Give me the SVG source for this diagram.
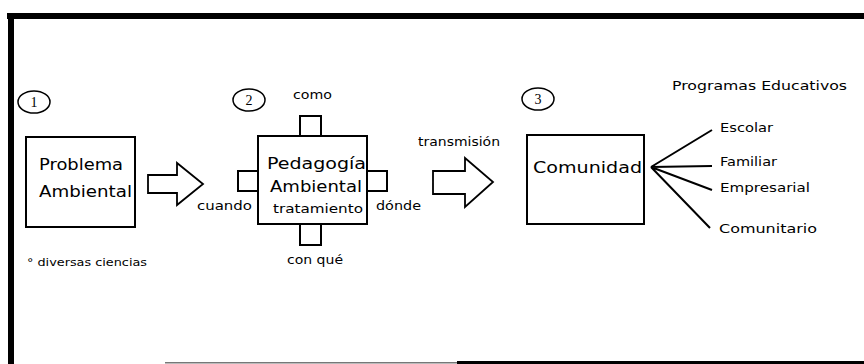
<svg xmlns="http://www.w3.org/2000/svg" width="864" height="364" viewBox="0 0 864 364">
<style>
.box{fill:#fff;stroke:#000;stroke-width:2}
.sq{fill:#fff;stroke:#000;stroke-width:2}
.num{fill:none;stroke:#000;stroke-width:1.5}
.arr{fill:#fff;stroke:#000;stroke-width:1.8;stroke-linejoin:miter}
.fan{stroke:#000;stroke-width:2;fill:none}
text{font-family:"DejaVu Sans","Liberation Sans",sans-serif;fill:#000}
.big{font-size:16px}
.sm{font-size:12.5px}
.xs{font-size:10.5px}
.n{font-family:"Liberation Serif",serif;font-size:14px;text-anchor:middle}
</style>
<rect width="864" height="364" fill="#fff"/>
<g id="frame">
<rect x="7" y="13" width="857" height="6" fill="#000"/>
<rect x="8" y="13" width="6" height="351" fill="#000"/>
<rect x="165" y="362" width="292" height="1.5" fill="#777"/>
<rect x="457" y="361" width="407" height="3" fill="#000"/>
</g>
<g id="num1"><ellipse class="num" cx="34" cy="102" rx="16" ry="11"/><text class="n" x="34" y="107">1</text></g>
<g id="num2"><ellipse class="num" cx="249" cy="100" rx="16" ry="11"/><text class="n" x="249" y="105">2</text></g>
<g id="num3"><ellipse class="num" cx="538" cy="99" rx="16" ry="11"/><text class="n" x="538" y="104">3</text></g>
<g id="problema">
<rect class="box" x="26" y="137" width="109" height="90"/>
<text class="big" x="39" y="170" textLength="84" lengthAdjust="spacingAndGlyphs">Problema</text>
<text class="big" x="39" y="197" textLength="93" lengthAdjust="spacingAndGlyphs">Ambiental</text>
</g>
<g id="diversas"><text class="xs" x="27" y="266" textLength="120" lengthAdjust="spacingAndGlyphs">° diversas ciencias</text></g>
<g id="pedagogia">
<rect class="sq" x="300" y="116" width="21" height="20"/>
<rect class="sq" x="238" y="171" width="20" height="20"/>
<rect class="sq" x="367" y="171" width="20" height="20"/>
<rect class="sq" x="300" y="224" width="21" height="21"/>
<rect class="box" x="258" y="136" width="109" height="88"/>
<text class="big" x="267" y="169" textLength="99" lengthAdjust="spacingAndGlyphs">Pedagogía</text>
<text class="big" x="270" y="192" textLength="92" lengthAdjust="spacingAndGlyphs">Ambiental</text>
<text class="sm" x="273" y="213" textLength="90" lengthAdjust="spacingAndGlyphs">tratamiento</text>
</g>
<g id="labels2">
<text class="sm" x="293" y="99" textLength="39" lengthAdjust="spacingAndGlyphs">como</text>
<text class="sm" x="197" y="210" textLength="55" lengthAdjust="spacingAndGlyphs">cuando</text>
<text class="sm" x="376" y="210" textLength="45" lengthAdjust="spacingAndGlyphs">dónde</text>
<text class="sm" x="287" y="264" textLength="56" lengthAdjust="spacingAndGlyphs">con qué</text>
</g>
<g id="transmision"><text class="sm" x="418" y="146" textLength="82" lengthAdjust="spacingAndGlyphs">transmisión</text></g>
<g id="comunidad">
<rect class="box" x="527" y="135" width="117" height="89"/>
<text class="big" x="533" y="173" textLength="109" lengthAdjust="spacingAndGlyphs">Comunidad</text>
</g>
<g id="programas">
<text class="sm" x="672" y="90" textLength="175" lengthAdjust="spacingAndGlyphs">Programas Educativos</text>
<text class="sm" x="720" y="132" textLength="53" lengthAdjust="spacingAndGlyphs">Escolar</text>
<text class="sm" x="720" y="166" textLength="57" lengthAdjust="spacingAndGlyphs">Familiar</text>
<text class="sm" x="720" y="192" textLength="90" lengthAdjust="spacingAndGlyphs">Empresarial</text>
<text class="sm" x="719" y="233" textLength="98" lengthAdjust="spacingAndGlyphs">Comunitario</text>
</g>
<g id="connectors">
<path class="arr" d="M148,175 H177 V163 L203,184 L177,205 V193 H148 Z"/>
<path class="arr" d="M433,171 H465 V158 L493,182 L465,207 V194 H433 Z"/>
<path class="fan" d="M651,167 L712,130 M651,167 L712,166 M651,167 L712,190 M651,167 L710,228"/>
</g>
</svg>
